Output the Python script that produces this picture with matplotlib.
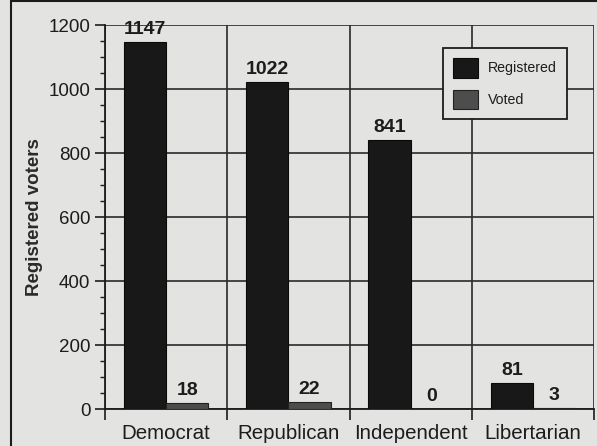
import numpy as np
import matplotlib.pyplot as plt
from matplotlib.patches import Rectangle
from matplotlib.ticker import MultipleLocator, FixedLocator

parties = ['Democrat', 'Republican', 'Independent', 'Libertarian']
registered = [1147, 1022, 841, 81]
voted = [18, 22, 0, 3]

plt.rcParams['font.family'] = ['Liberation Sans', 'DejaVu Sans']

bg = '#e3e3e1'
ink = '#1c1c1c'

fig = plt.figure(figsize=(5.97, 4.46), dpi=100, facecolor=bg)
ax = fig.add_axes([105/597, 1 - 409/446, 489/597, 384/446])
ax.set_facecolor(bg)

x = np.arange(len(parties))
w = 0.345
b1 = ax.bar(x - w/2, registered, w, color='#181818', edgecolor='#0a0a0a',
            linewidth=0.8, label='Registered', zorder=3)
b2 = ax.bar(x + w/2, voted, w, color='#4d4d4d', edgecolor='#222222',
            linewidth=0.8, label='Voted', zorder=3)

# value labels
for rects, vals in [(b1, registered), (b2, voted)]:
    for r, v in zip(rects, vals):
        ax.annotate(str(v), (r.get_x() + r.get_width()/2, r.get_height()),
                    xytext=(0, 3), textcoords='offset points',
                    ha='center', va='bottom', fontsize=14,
                    fontweight='bold', color=ink, zorder=5)

ax.set_xlim(-0.5, 3.5)
ax.set_ylim(0, 1200)

# y axis
ax.yaxis.set_major_locator(MultipleLocator(200))
ax.yaxis.set_minor_locator(MultipleLocator(50))
ax.tick_params(axis='y', which='major', length=7, width=1.2, color=ink,
               labelsize=13.5, labelcolor=ink, pad=3.5)
ax.tick_params(axis='y', which='minor', length=3.5, width=1.0, color=ink)
ax.set_ylabel('Registered voters', fontsize=13.5, fontweight='bold',
              color='#2a2a2a', labelpad=4)

# x axis: ticks at boundaries, labels at centres
ax.xaxis.set_major_locator(FixedLocator([-0.5, 0.5, 1.5, 2.5, 3.5]))
ax.xaxis.set_minor_locator(FixedLocator(x))
ax.set_xticklabels([], minor=False)
ax.set_xticklabels(parties, minor=True)
ax.tick_params(axis='x', which='major', length=8, width=1.2, color=ink)
ax.tick_params(axis='x', which='minor', length=0, labelsize=14.8,
               labelcolor=ink, pad=11)

ax.grid(True, which='major', color='#2a2a2a', linewidth=1.2, zorder=1)
ax.set_axisbelow(True)
for s in ['top', 'right']:
    ax.spines[s].set_visible(False)
for s in ['left', 'bottom']:
    ax.spines[s].set_color(ink)
    ax.spines[s].set_linewidth(1.3)

leg = ax.legend(loc='upper left', bbox_to_anchor=(443/597, 1 - 48/446),
                bbox_transform=fig.transFigure, fontsize=10.2,
                frameon=True, fancybox=False, borderaxespad=0,
                handlelength=1.75, handleheight=1.75, labelspacing=0.85,
                handletextpad=0.75, borderpad=0.7)
leg.get_frame().set_edgecolor(ink)
leg.get_frame().set_linewidth(1.3)
leg.get_frame().set_facecolor(bg)
leg.get_frame().set_alpha(1)
leg.set_zorder(6)
for t in leg.get_texts():
    t.set_color(ink)

# outer frame of the graphic
fig.patches.append(Rectangle((11/597, -0.1), 2, 1.1 - 1.5/446,
                             transform=fig.transFigure, fill=False,
                             edgecolor=ink, linewidth=1.5))

fig.savefig('out.png', dpi=100, facecolor=bg)
